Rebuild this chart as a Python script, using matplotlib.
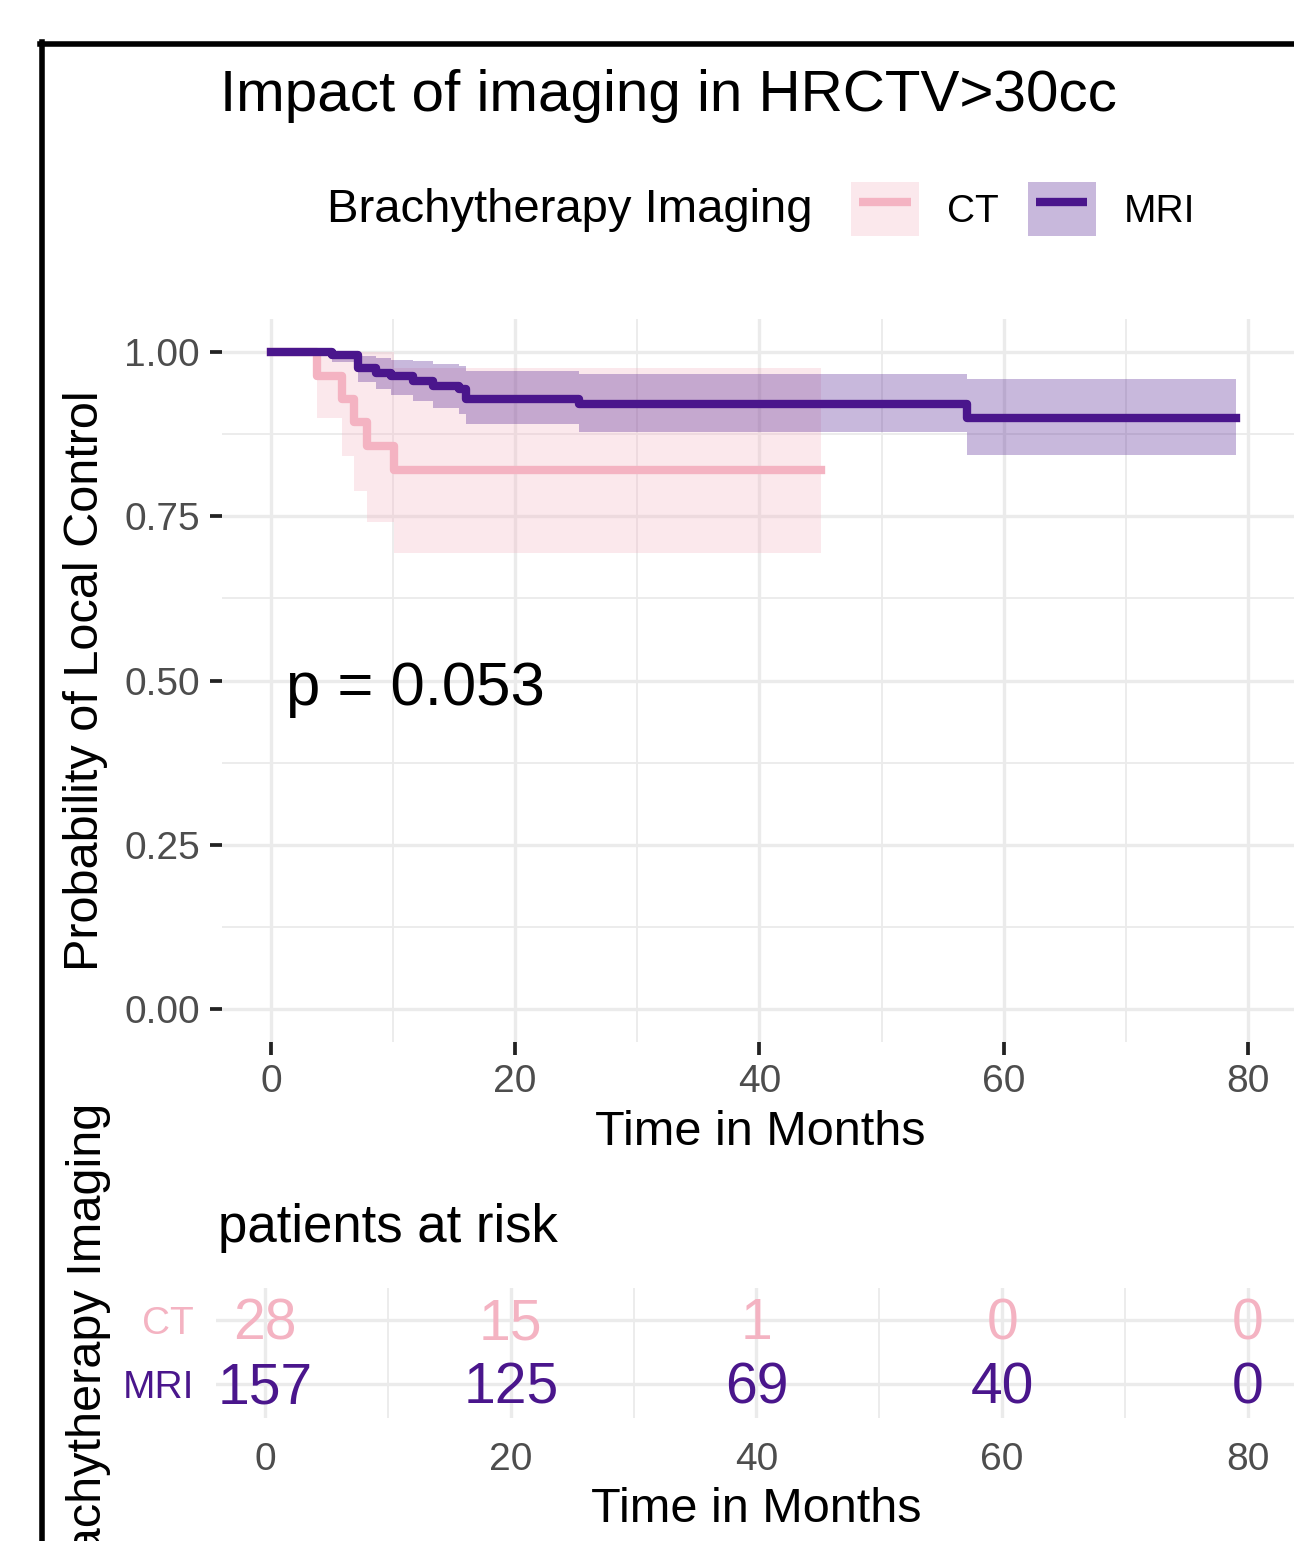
import matplotlib
matplotlib.use('Agg')
import matplotlib.pyplot as plt
import matplotlib.transforms as mtransforms
from matplotlib.patches import Patch
from matplotlib.lines import Line2D
from matplotlib.legend_handler import HandlerTuple, HandlerLine2D

plt.rcParams['font.family'] = ['Liberation Sans', 'DejaVu Sans']

# Kaplan-Meier estimates
mri_time = [0, 5.0, 7.1, 8.6, 9.8, 11.6, 13.3, 15.4, 16.0, 25.2, 57.0, 79.0]
mri_surv = [1.000, 0.995, 0.976, 0.968, 0.963, 0.956, 0.948, 0.943, 0.929, 0.920, 0.900, 0.900]
mri_upper = [1.000, 1.000, 0.994, 0.990, 0.988, 0.986, 0.982, 0.978, 0.971, 0.966, 0.959, 0.959]
mri_lower = [1.000, 0.984, 0.954, 0.944, 0.934, 0.926, 0.915, 0.905, 0.890, 0.878, 0.843, 0.843]

ct_time = [0, 3.8, 5.8, 6.8, 7.9, 10.1, 45.0]
ct_surv = [1.000, 0.964, 0.929, 0.893, 0.857, 0.821, 0.821]
ct_upper = [1.000, 1.000, 1.000, 1.000, 1.000, 0.975, 0.975]
ct_lower = [1.000, 0.900, 0.842, 0.789, 0.741, 0.694, 0.694]

risk_times = [0, 20, 40, 60, 80]
risk_ct = [28, 15, 1, 0, 0]
risk_mri = [157, 125, 69, 40, 0]

groups = ['CT', 'MRI']
p_text = 'p = 0.053'

ct_col = '#F4B3C2'
mri_col = '#4A168C'
grid_col = '#EBEBEB'
tick_col = '#4D4D4D'

W, H = 1294, 1541
fig = plt.figure(figsize=(W / 100, H / 100), dpi=100)


def fx(px):
    return px / W


def fy(py):
    return 1 - py / H


# main survival panel
ax = fig.add_axes([fx(222), fy(1042), fx(1297) - fx(222), fy(319) - fy(1042)])
ax.fill_between(ct_time, ct_lower, ct_upper, step='post', color=ct_col, alpha=0.3, lw=0)
ax.fill_between(mri_time, mri_lower, mri_upper, step='post', color=mri_col, alpha=0.3, lw=0)
ax.step(ct_time, ct_surv, where='post', color=ct_col, lw=6)
ax.step(mri_time, mri_surv, where='post', color=mri_col, lw=6)

ax.set_xlim(-4, 84)
ax.set_ylim(-0.05, 1.05)
ax.set_xticks([0, 20, 40, 60, 80])
ax.set_xticks([10, 30, 50, 70], minor=True)
ax.set_yticks([0, 0.25, 0.5, 0.75, 1.0])
ax.set_yticklabels(['0.00', '0.25', '0.50', '0.75', '1.00'])
ax.set_yticks([0.125, 0.375, 0.625, 0.875], minor=True)
ax.grid(which='major', color=grid_col, lw=2.4)
ax.grid(which='minor', color=grid_col, lw=1.3)
ax.set_axisbelow(True)
for s in ax.spines.values():
    s.set_visible(False)
ax.tick_params(which='major', length=9, width=2.7, color='#222222', labelcolor=tick_col,
               labelsize=28, pad=7)
ax.tick_params(which='minor', length=0)
ax.set_xlabel('Time in Months', fontsize=35)
ax.xaxis.set_label_coords(0.5005, -0.1255)
ax.xaxis.label.set_va('center')
ax.set_ylabel('Probability of Local Control', fontsize=35)
ax.yaxis.set_label_coords(-0.1274, 0.5)
ax.yaxis.label.set_va('center')
ax.text(1.2, 0.463, p_text, fontsize=44.5, ha='left', va='baseline')

# title and legend
fig.text(fx(220), fy(96), 'Impact of imaging in HRCTV>30cc', fontsize=42, ha='left', va='center')
fig.text(fx(327), fy(210), 'Brachytherapy Imaging', fontsize=34, ha='left', va='center')
handles = [(Patch(facecolor=ct_col, alpha=0.3, lw=0),
            Line2D([], [], color=ct_col, lw=6, solid_capstyle='butt')),
           (Patch(facecolor=mri_col, alpha=0.3, lw=0),
            Line2D([], [], color=mri_col, lw=6, solid_capstyle='butt'))]
fig.legend(handles, groups,
           handler_map={tuple: HandlerTuple(ndivide=1, pad=0),
                        Line2D: HandlerLine2D(numpoints=2, marker_pad=0.21)},
           loc='center left', bbox_to_anchor=(fx(851), fy(209)), ncol=2, frameon=False,
           fontsize=28, handlelength=1.75, handleheight=1.75, handletextpad=0.72,
           columnspacing=0.74, borderpad=0, borderaxespad=0)

# risk table panel
ax2 = fig.add_axes([fx(216), fy(1418), fx(1297) - fx(216), fy(1288) - fy(1418)])
ax2.set_xlim(-4, 84)
ax2.set_ylim(0.47, 2.5)
num_trans = mtransforms.offset_copy(ax2.transData, fig=fig, x=0, y=-4, units='dots')
for t, n in zip(risk_times, risk_ct):
    ax2.text(t, 2, str(n), color=ct_col, fontsize=41, ha='center', va='center',
             transform=num_trans)
for t, n in zip(risk_times, risk_mri):
    ax2.text(t, 1, str(n), color=mri_col, fontsize=41, ha='center', va='center',
             transform=num_trans)
ax2.set_xticks(risk_times)
ax2.set_xticks([10, 30, 50, 70], minor=True)
ax2.set_yticks([2, 1])
ax2.set_yticklabels(groups)
for lab, c in zip(ax2.get_yticklabels(), [ct_col, mri_col]):
    lab.set_color(c)
ax2.grid(which='major', color=grid_col, lw=2.4)
ax2.grid(which='minor', axis='x', color=grid_col, lw=1.3)
ax2.set_axisbelow(True)
for s in ax2.spines.values():
    s.set_visible(False)
ax2.tick_params(axis='x', which='major', length=0, labelsize=28, labelcolor=tick_col, pad=17)
ax2.tick_params(axis='y', length=0, labelsize=28, pad=16)
ax2.tick_params(which='minor', length=0)
ax2.set_xlabel('Time in Months', fontsize=35)
ax2.xaxis.set_label_coords(0.5, -0.70)
ax2.xaxis.label.set_va('center')
ax2.set_ylabel('Brachytherapy Imaging', fontsize=35)
ax2.yaxis.set_label_coords(-0.118, 0.5)
ax2.yaxis.label.set_va('center')
ax2.text(0.002, 1 + (1288 - 1228) / 130, 'patients at risk', fontsize=38,
         ha='left', va='center', transform=ax2.transAxes)

# black frame at top-left
fig.add_artist(Line2D([fx(42), fx(42)], [fy(42), 0], color='black', lw=4,
                      transform=fig.transFigure))
fig.add_artist(Line2D([fx(40), 1.0], [fy(44), fy(44)], color='black', lw=4,
                      transform=fig.transFigure))

fig.savefig('out.png', dpi=100)
